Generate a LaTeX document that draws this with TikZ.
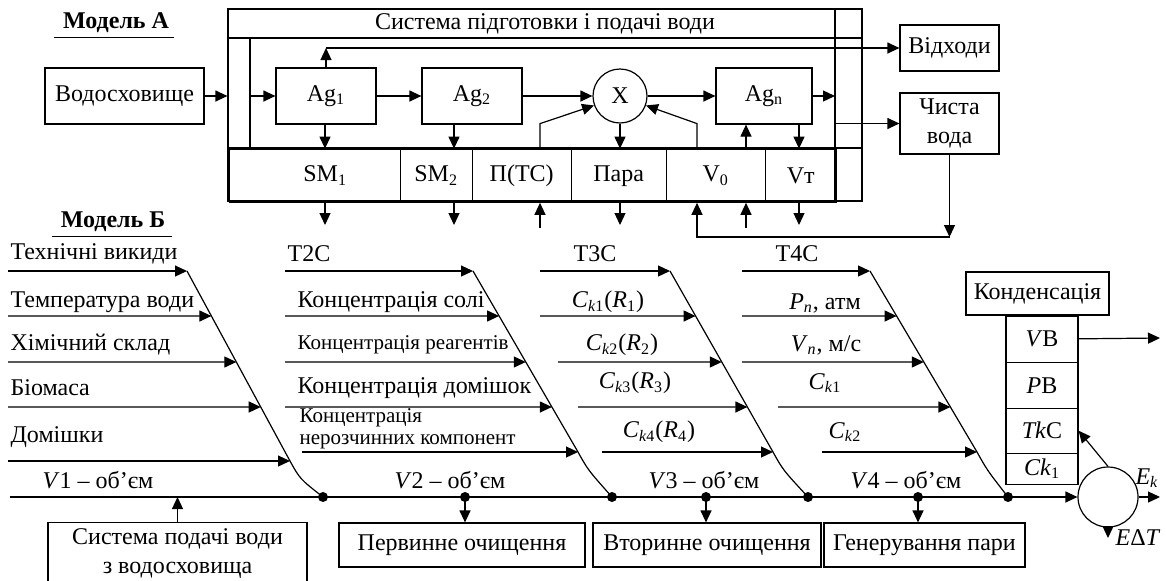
\documentclass[tikz,border=0pt]{standalone}
\usepackage{fontspec}
\setmainfont{Liberation Serif}
\usepackage{tikz}
\usetikzlibrary{positioning,matrix,calc,arrows.meta}
\newcommand{\Cki}[1]{\textit{C}\textsubscript{\textit{k}#1}}
\newcommand{\Ri}[1]{(\textit{R}\textsubscript{#1})}

\begin{document}
\begin{tikzpicture}[
    x=0.5pt, y=-0.5pt,
    line width=0.6pt,
    >={Triangle[length=6pt,width=5.5pt]},
    every node/.style={font=\fontsize{12}{14.5}\selectfont},
    box/.style={draw, inner sep=0pt, align=center},
    smalltxt/.style={font=\fontsize{10.5}{11}\selectfont},
    lbl/.style={inner sep=0pt, anchor=west},
    title/.style={inner sep=0pt, font=\fontsize{12}{14}\selectfont\bfseries},
    dotnode/.style={circle, fill, inner sep=0pt, minimum size=5pt}
]
\useasboundingbox (0,0) rectangle (1166,580);

% Model A
\node[title] (modA) at (116,23) {Модель А};
\draw ([shift={(-8,4)}]modA.south west) -- ([shift={(4,4)}]modA.south east);
\node[box, minimum width=79.5pt, minimum height=28pt] (res) at (124.5,96) {Водосховище};
\node[draw, minimum width=317pt, minimum height=96pt, inner sep=0pt] (sys) at (545,105) {};
\node[box, minimum width=317pt, minimum height=14.5pt] (sysT) at (545,23.5) {Система підготовки і подачі води};
\coordinate (inL) at (250,96);
\coordinate (inR) at (835,96);
\draw (inR |- sys.north) -- (inR |- sys.south);
\draw (inL |- sysT.south) -- (inL |- 0,148);
\draw (sys.west |- 0,148) -- (sys.east |- 0,148);
\matrix[
    matrix of nodes, anchor=north west, inner sep=0pt, column sep=-0.6pt,
    nodes={draw, minimum height=26.5pt, inner sep=0pt, anchor=center},
    column 1/.style={nodes={minimum width=85.5pt}},
    column 2/.style={nodes={minimum width=36pt}},
    column 3/.style={nodes={minimum width=49.5pt}},
    column 4/.style={nodes={minimum width=47.5pt}},
    column 5/.style={nodes={minimum width=49.5pt}},
    column 6/.style={nodes={minimum width=35.5pt}}
] (row) at (228,148) {
    |(sm1)| \hspace*{10.5pt}SM\textsubscript{1} & |(sm2)| SM\textsubscript{2} & |(pts)| П(ТС) &
    |(para)| Пара & |(v0)| V\textsubscript{0} & |(vt)| Vт \\
};
\node[box, minimum width=50pt, minimum height=28pt] (ag1) at (326,96) {Ag\textsubscript{1}};
\node[box, minimum width=50pt, minimum height=28pt] (ag2) at (472,96) {Ag\textsubscript{2}};
\node[draw, circle, minimum size=27pt, inner sep=0pt] (xc) at (620,96) {X};
\node[box, minimum width=48pt, minimum height=28pt] (agn) at (764,96) {Ag\textsubscript{n}};
\node[box, minimum width=49.5pt, minimum height=23pt] (vid) at (949.5,48) {Відходи};
\node[box, minimum width=49.5pt, minimum height=30.5pt] (cv) at (949.5,123.5) {Чиста\\вода};

\draw[->] (res) -- (res -| sys.west);
\draw[->] (inL) -- (ag1);
\draw[->] (ag1) -- (ag2);
\draw[->] (ag2) -- (xc);
\draw[->] (xc) -- (agn);
\draw[->] (agn) -- (inR);
\draw[->] (inR |- cv) -- (cv);
\coordinate (w) at (ag1.north |- vid.west);
\draw[->] (ag1.north) -- (w);
\draw[->] (w) -- (vid);

\foreach \c/\x in {d1/325,d2/454,d3/620,d4/799} \coordinate (\c) at (\x,225);
\foreach \c/\x in {u1/540,u2/746} \coordinate (\c) at (\x,228);
\coordinate (rt) at (697,237);
\coordinate (rc) at (cv.south |- rt);
\draw[->] (d1 |- ag1.south) -- (d1 |- sm1.north);
\draw[->] (d2 |- ag2.south) -- (d2 |- sm2.north);
\draw[->] (xc) -- (xc |- para.north);
\draw[->] (u2 |- vt.north) -- (u2 |- agn.south);
\draw[->] (d4 |- agn.south) -- (d4 |- vt.north);
\draw[->] (u1 |- pts.north) -- ++(0,-25) -- (xc.200);
\draw[->] (rt |- v0.north) -- ++(0,-25) -- (xc.340);
\draw[->] (d1 |- sm1.south) -- (d1);
\draw[->] (d2 |- sm2.south) -- (d2);
\draw[->] (d3 |- para.south) -- (d3);
\draw[->] (d4 |- vt.south) -- (d4);
\draw[->] (u1) -- (u1 |- pts.south);
\draw[->] (u2) -- (u2 |- v0.south);
\draw[->] (cv) -- (rc);
\draw[->] (rc) -- (rt) -- (rt |- v0.south);

% Model B
\node[title] (modB) at (113,222) {Модель Б};
\draw ([shift={(-8,4)}]modB.south west) -- ([shift={(6,4)}]modB.south east);
\coordinate (sp) at (10,497);
\node[draw, circle, minimum size=30pt, inner sep=0pt] (ek) at (1108,497) {};
\draw[->] (sp) -- (ek);
\foreach \n/\x in {n1/323,v2/465,n2/612,v3/706,n3/808,v4/918,n4/1008}
    \node[dotnode] (\n) at (\x,497) {};

\coordinate (b1t) at (187,271); \coordinate (b1b) at (290,461);
\coordinate (b2t) at (473,271); \coordinate (b2b) at (578,452);
\coordinate (b3t) at (670,271); \coordinate (b3b) at (773,452);
\coordinate (b4t) at (870,271); \coordinate (b4b) at (977,452);
\draw (b1t) -- (b1b) .. controls +(10,18) .. (n1.center);
\draw (b2t) -- (b2b) .. controls +(10,18) .. (n2.center);
\draw (b3t) -- (b3b) .. controls +(10,18) .. (n3.center);
\draw (b4t) -- (b4b) .. controls +(10,18) .. (n4.center);

\foreach \y/\s [count=\i] in {271/8,316/8,362/8,407/8,461/8} {
    \coordinate (a\i) at (\s,\y);
    \draw[->] (a\i) -- ($(b1t)!{(\y-271)/190}!(b1b)$);
}
\foreach \y/\s [count=\i] in {271/285,316/285,362/285,407/285,452/302} {
    \coordinate (b\i) at (\s,\y);
    \draw[->] (b\i) -- ($(b2t)!{(\y-271)/181}!(b2b)$);
}
\foreach \y/\s [count=\i] in {271/540,316/540,362/558,407/578,452/602} {
    \coordinate (c\i) at (\s,\y);
    \draw[->] (c\i) -- ($(b3t)!{(\y-271)/181}!(b3b)$);
}
\foreach \y/\s [count=\i] in {271/742,316/742,362/742,407/778,452/822} {
    \coordinate (e\i) at (\s,\y);
    \draw[->] (e\i) -- ($(b4t)!{(\y-271)/181}!(b4b)$);
}

\node[lbl] (t11) at (10,254) {Технічні викиди};
\node[lbl] (t12) at (10,302) {Температура води};
\node[lbl] (t13) at (10,345) {Хімічний склад};
\node[lbl] (t14) at (10,388) {Біомаса};
\node[lbl] (t15) at (10,437) {Домішки};
\node (vol1) at (98,480) {\textit{V}1 – об’єм};

\node[lbl] (t21) at (287,254) {T2C};
\node[lbl] (t22) at (297,302) {Концентрація солі};
\node[lbl, smalltxt] (t23) at (297,345) {Концентрація реагентів};
\node[lbl] (t24) at (297,388) {Концентрація домішок};
\node[lbl, smalltxt, align=left] (t25) at (299,429) {Концентрація\\нерозчинних компонент};
\node (vol2) at (450,480) {\textit{V}2 – об’єм};

\node[lbl] (t31) at (573,254) {T3C};
\node (t32) at (608,302) {\Cki1\Ri1};
\node (t33) at (622,345) {\Cki2\Ri2};
\node (t34) at (635,383) {\Cki3\Ri3};
\node (t35) at (659,432) {\Cki4\Ri4};
\node (vol3) at (704,480) {\textit{V}3 – об’єм};

\node[lbl] (t41) at (775,254) {T4C};
\node (t42) at (825,303) {\textit{P}\textsubscript{\textit{п}}, атм};
\node (t43) at (826,345) {\textit{V}\textsubscript{\textit{п}}, м/с};
\node (t44) at (825,383) {\Cki1};
\node (t45) at (845,432) {\Cki2};
\node (vol4) at (906,480) {\textit{V}4 – об’єм};

\node[box, minimum width=129.5pt, minimum height=31pt, anchor=north] (sup) at (177.5,522) {Система подачі води\\з водосховища};
\node[box, minimum width=123pt, minimum height=22pt] (prim) at (462,545) {Первинне очищення};
\node[box, minimum width=114pt, minimum height=22pt] (sec) at (707,545) {Вторинне очищення};
\node[box, minimum width=100.5pt, minimum height=22pt] (gen) at (924.5,545) {Генерування пари};
\draw[->] (sup) -- (sup |- sp);
\draw[->] (v2.center) -- (v2 |- prim.north);
\draw[->] (v3.center) -- (v3 |- sec.north);
\draw[->] (v4.center) -- (v4 |- gen.north);

\node[box, minimum width=71.5pt, minimum height=21.5pt] (kond) at (1037.5,293.5) {Конденсація};
\matrix[
    matrix of nodes, anchor=north, inner sep=0pt, row sep=-0.6pt,
    nodes={draw, minimum width=36pt, inner sep=0pt, anchor=center},
    row 1/.style={nodes={minimum height=23pt}},
    row 2/.style={nodes={minimum height=23pt}},
    row 3/.style={nodes={minimum height=22.5pt}},
    row 4/.style={nodes={minimum height=15.5pt}}
] (stk) at (1042,315) {
    |(vb)| \textit{V}В \\
    |(pb)| \textit{P}В \\
    |(tkc)| \textit{Tk}C \\
    |(ck)| \textit{Ck}\textsubscript{1} \\
};
\coordinate (vbo) at (1160,338);
\coordinate (eko) at (1160,497);
\coordinate (edt) at (1108,538);
\draw[->] (vb) -- (vbo);
\draw[->] (ek.north) -- (tkc.east);
\draw[->] (ek) -- (eko);
\draw[->] (ek) -- (edt);
\node (ekl) at (1147,478) {\textit{E}\textsubscript{\textit{k}}};
\node[lbl] (edtl) at (1115,538) {\textit{E}Δ\textit{T}};
\end{tikzpicture}
\end{document}
